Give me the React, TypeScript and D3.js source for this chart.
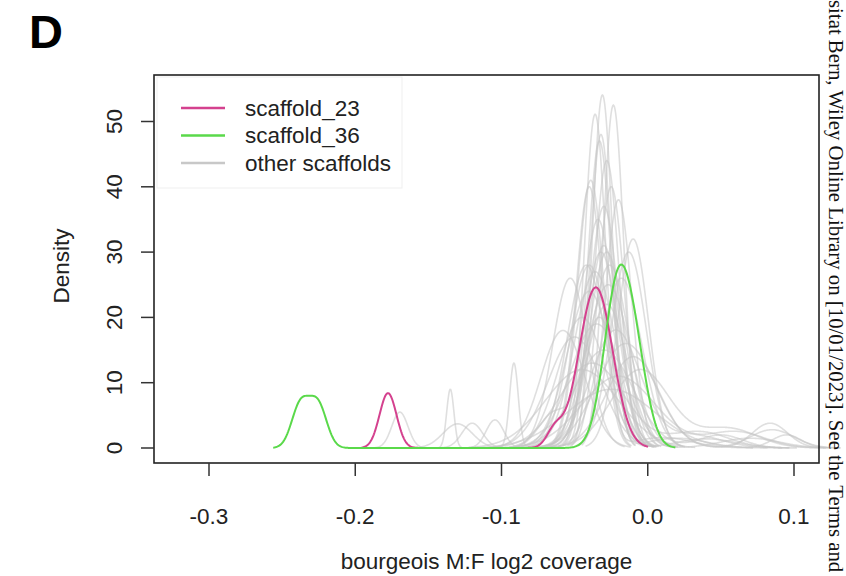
import React from "react";
import * as d3 from "d3";

// ---- data ----
const xTicks = [-0.3, -0.2, -0.1, 0.0, 0.1];
const yTicks = [0, 10, 20, 30, 40, 50];
const legendLabels = ["scaffold_23", "scaffold_36", "other scaffolds"];
const legendColors = ["#d4418e", "#5ad94a", "#c8c8c8"];

// density bumps: [center, spread, peak density]
const scaffold23Bumps = [
  [-0.1776, 0.0058, 8.4],
  [-0.0355, 0.0115, 24.6],
  [-0.0635, 0.0055, 2.6],
];
const scaffold36Bumps = [
  [-0.2375, 0.006, 6.6],
  [-0.2255, 0.006, 6.6],
  [-0.0205, 0.0095, 24.5],
  [-0.0075, 0.0085, 9.5],
];

// other scaffolds: main peak per scaffold
const otherCenter = [
  -0.031, -0.036, -0.0235, -0.033, -0.028, -0.039, -0.025, -0.03, -0.034, -0.01,
  -0.013, -0.053, -0.042, -0.04, -0.027, -0.018, -0.045, -0.035, -0.022, -0.05,
  -0.03, -0.015, -0.058, -0.038, -0.02, -0.045, -0.01, -0.033, -0.03, -0.028,
  -0.04, -0.036, -0.026, -0.032, -0.005, -0.025, -0.04, -0.032, -0.02, -0.028,
];
const otherSpread = [
  0.0068, 0.0072, 0.007, 0.008, 0.0085, 0.009, 0.009, 0.01, 0.0105, 0.0105,
  0.012, 0.012, 0.013, 0.015, 0.015, 0.014, 0.016, 0.018, 0.017, 0.018,
  0.02, 0.02, 0.015, 0.022, 0.025, 0.025, 0.018, 0.012, 0.011, 0.012,
  0.013, 0.014, 0.013, 0.012, 0.02, 0.03, 0.009, 0.0075, 0.009, 0.014,
];
const otherPeak = [
  54, 51, 52.5, 47, 44, 41, 40, 37, 35, 32,
  30, 26, 28, 24, 25, 26, 20, 19, 18, 17,
  15, 16, 18, 13, 11, 12, 14, 20, 31, 30,
  28, 27, 28, 30, 12, 9, 40, 48, 38, 22,
];
// secondary bumps: [scaffold index, center, spread, peak density]
const otherExtra = [
  [0, 0.02, 0.02, 1.5],
  [1, 0.01, 0.02, 1.6],
  [2, 0.04, 0.02, 1.4],
  [18, 0.03, 0.02, 2.0],
  [20, 0.05, 0.015, 2.0],
  [21, 0.0836, 0.012, 3.8],
  [23, 0.035, 0.02, 2.5],
  [24, 0.06, 0.02, 2.5],
  [26, 0.085, 0.015, 2.8],
  [27, -0.065, 0.01, 5.0],
  [28, -0.0915, 0.003, 13],
  [29, -0.135, 0.0025, 9],
  [30, -0.1695, 0.0055, 5.5],
  [31, -0.12, 0.007, 3.8],
  [32, -0.1045, 0.006, 4.3],
  [33, -0.13, 0.01, 3.7],
  [34, 0.055, 0.02, 3.0],
  [35, 0.095, 0.01, 2.0],
  [39, 0.07, 0.02, 1.5],
];

// ---- layout ----
const W = 846;
const H = 576;
const frame = { left: 154, right: 819, top: 75, bottom: 463 };

const x = d3.scaleLinear().domain([-0.3, 0.1]).range([209, 794]);
const y = d3.scaleLinear().domain([0, 50]).range([448, 121.5]);

function curvePoints(bumps: number[][]): [number, number][] {
  const lo = d3.min(bumps, (b) => b[0] - 3.1 * b[1]) as number;
  const hi = d3.max(bumps, (b) => b[0] + 3.1 * b[1]) as number;
  const n = 400;
  const pts: [number, number][] = [];
  for (let i = 0; i <= n; i++) {
    const xv = lo + ((hi - lo) * i) / n;
    let dv = 0;
    for (const [c, s, p] of bumps) dv += p * Math.exp(-0.5 * ((xv - c) / s) ** 2);
    pts.push([xv, dv]);
  }
  return pts;
}

const line = d3
  .line<[number, number]>()
  .x((d) => x(d[0]))
  .y((d) => y(d[1]));

const otherCurves = otherCenter.map((c, i) => {
  const bumps = [[c, otherSpread[i], otherPeak[i]]];
  otherExtra.filter((e) => e[0] === i).forEach((e) => bumps.push([e[1], e[2], e[3]]));
  return curvePoints(bumps);
});

const sans = "'Liberation Sans', Arial, Helvetica, sans-serif";
const fs = 22.5;

export default function App() {
  return (
    <svg width={W} height={H} style={{ position: "absolute", left: 0, top: 0, background: "#fff" }}>
      <rect x={0} y={0} width={W} height={H} fill="#fff" />
      <text x={29} y={48} fontFamily={sans} fontWeight="bold" fontSize={47} fill="#000">
        D
      </text>

      {/* gray curves */}
      <g fill="none" stroke="#c4c4c4" strokeOpacity={0.55} strokeWidth={1.6}>
        {otherCurves.map((pts, i) => (
          <path key={i} d={line(pts) as string} />
        ))}
      </g>
      <path d={line(curvePoints(scaffold23Bumps)) as string} fill="none" stroke={legendColors[0]} strokeWidth={2} />
      <path d={line(curvePoints(scaffold36Bumps)) as string} fill="none" stroke={legendColors[1]} strokeWidth={2} />

      {/* frame */}
      <rect
        x={frame.left}
        y={frame.top}
        width={frame.right - frame.left}
        height={frame.bottom - frame.top}
        fill="none"
        stroke="#222"
        strokeWidth={1.6}
      />

      {/* x axis */}
      {xTicks.map((t) => (
        <g key={t}>
          <line x1={x(t)} x2={x(t)} y1={frame.bottom} y2={frame.bottom + 13} stroke="#333" strokeWidth={1.5} />
          <text x={x(t)} y={524} textAnchor="middle" fontFamily={sans} fontSize={fs} fill="#222">
            {d3.format(".1f")(t).replace("−", "-")}
          </text>
        </g>
      ))}
      <text x={(frame.left + frame.right) / 2} y={569} textAnchor="middle" fontFamily={sans} fontSize={fs} fill="#222">
        bourgeois M:F log2 coverage
      </text>

      {/* y axis */}
      {yTicks.map((t) => (
        <g key={t}>
          <line x1={frame.left - 13} x2={frame.left} y1={y(t)} y2={y(t)} stroke="#333" strokeWidth={1.5} />
          <text
            transform={`translate(122, ${y(t)}) rotate(-90)`}
            textAnchor="middle"
            fontFamily={sans}
            fontSize={fs}
            fill="#222"
          >
            {t}
          </text>
        </g>
      ))}
      <text
        transform={`translate(69, 266) rotate(-90)`}
        textAnchor="middle"
        fontFamily={sans}
        fontSize={fs}
        fill="#222"
      >
        Density
      </text>

      {/* legend */}
      <rect x={157} y={77} width={245} height={111} fill="#fff" stroke="#efefef" strokeWidth={1} />
      {legendLabels.map((lab, i) => (
        <g key={lab}>
          <line x1={181} x2={225} y1={108 + i * 27.5} y2={108 + i * 27.5} stroke={legendColors[i]} strokeWidth={2.5} />
          <text x={245} y={115.5 + i * 27.5} fontFamily={sans} fontSize={fs} fill="#222">
            {lab}
          </text>
        </g>
      ))}

      {/* right margin watermark */}
      <text
        transform="translate(829, 0) rotate(90)"
        fontFamily="'Liberation Serif', 'Times New Roman', serif"
        fontSize={20.8}
        fill="#111"
      >
        sitat Bern, Wiley Online Library on [10/01/2023]. See the Terms and
      </text>
    </svg>
  );
}
